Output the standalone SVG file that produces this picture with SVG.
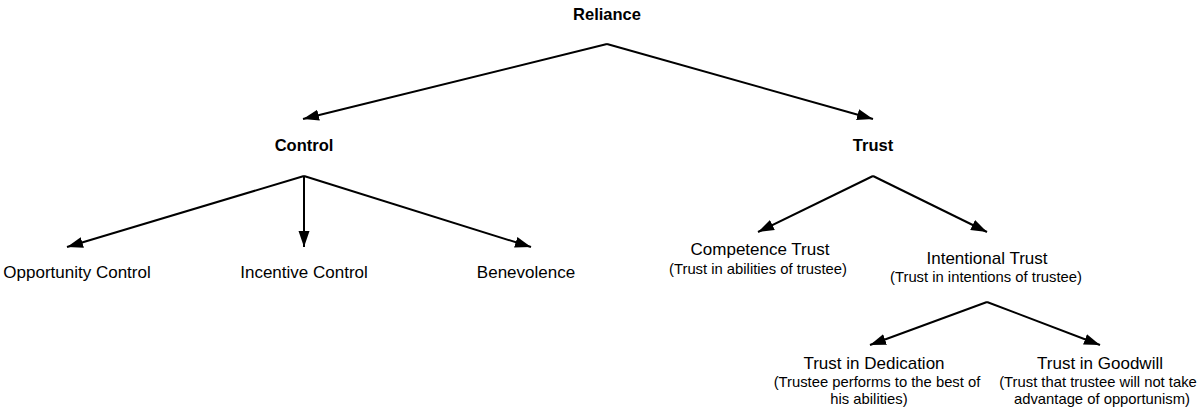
<svg xmlns="http://www.w3.org/2000/svg" width="1197" height="409" viewBox="0 0 1197 409">
<style>
text{font-family:"Liberation Sans",Arial,sans-serif;fill:#000;text-anchor:middle}
.b{font-weight:bold;font-size:16.5px}
.t{font-size:17px}
.s{font-size:14.8px}
.c{stroke:#000;stroke-width:2;fill:none;marker-end:url(#ah)}
</style>
<defs>
<marker id="ah" markerUnits="userSpaceOnUse" markerWidth="17" markerHeight="13" refX="16" refY="6.5" orient="auto">
<path d="M0,1 L16,6.5 L0,12 z" fill="#000"/>
</marker>
</defs>
<rect width="1197" height="409" fill="#fff"/>
<g id="connectors">
<path class="c" d="M607,44 L303,119"/>
<path class="c" d="M607,44 L873,119"/>
<path class="c" d="M304,176 L67,247"/>
<path class="c" d="M304,176 L304,247"/>
<path class="c" d="M304,176 L531,247"/>
<path class="c" d="M873,176 L758,232"/>
<path class="c" d="M873,176 L987,232"/>
<path class="c" d="M987,302 L870,345"/>
<path class="c" d="M987,302 L1100,345"/>
</g>
<g id="reliance"><text class="b" x="607" y="20">Reliance</text></g>
<g id="control"><text class="b" x="304" y="151">Control</text></g>
<g id="trust"><text class="b" x="873" y="151">Trust</text></g>
<g id="opportunity-control"><text class="t" x="77" y="278">Opportunity Control</text></g>
<g id="incentive-control"><text class="t" x="304" y="278">Incentive Control</text></g>
<g id="benevolence"><text class="t" x="526" y="278">Benevolence</text></g>
<g id="competence-trust"><text class="t" x="760" y="255">Competence Trust</text><text class="s" x="758" y="274">(Trust in abilities of trustee)</text></g>
<g id="intentional-trust"><text class="t" x="987" y="264">Intentional Trust</text><text class="s" x="986" y="282">(Trust in intentions of trustee)</text></g>
<g id="trust-in-dedication"><text class="t" x="874" y="369">Trust in Dedication</text><text class="s" x="877" y="387">(Trustee performs to the best of</text><text class="s" x="869" y="404">his abilities)</text></g>
<g id="trust-in-goodwill"><text class="t" x="1100" y="369">Trust in Goodwill</text><text class="s" x="1098" y="387">(Trust that trustee will not take</text><text class="s" x="1102" y="404">advantage of opportunism)</text></g>
</svg>
